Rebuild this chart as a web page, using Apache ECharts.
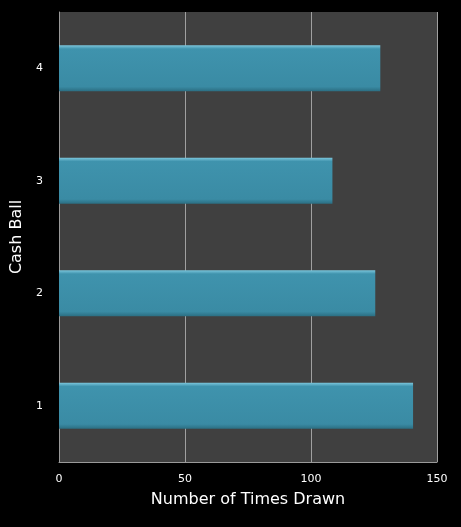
<!DOCTYPE html>
<html>
<head>
<meta charset="utf-8">
<script src="https://cdn.jsdelivr.net/npm/echarts@6/dist/echarts.min.js"></script>
<style>html,body{margin:0;padding:0;background:#000;}#main{width:461px;height:527px;}</style>
</head>
<body>
<div id="main"></div>
<script>
var categories = ['1', '2', '3', '4'];
var timesDrawn = [140.5, 125.5, 108.5, 127.5];
var xTicks = [0, 50, 100, 150];

var myChart = echarts.init(document.getElementById('main'));
var option = {
	backgroundColor: '#000000',
	grid: { left: 59, right: 24, top: 12, bottom: 65, show: true, backgroundColor: '#404040', borderWidth: 0 },
	xAxis: {
		type: 'value', min: xTicks[0], max: xTicks[xTicks.length - 1], interval: 50,
		name: 'Number of Times Drawn', nameLocation: 'middle', nameGap: 30,
		nameTextStyle: { color: '#ffffff', fontSize: 16, fontFamily: 'DejaVu Sans' },
		axisLine: { show: true, lineStyle: { color: '#9a9a9a' } },
		axisTick: { show: false },
		axisLabel: { color: '#ffffff', fontSize: 11, fontFamily: 'DejaVu Sans', margin: 12 },
		splitLine: { lineStyle: { color: '#a0a0a0', width: 1 } }
	},
	yAxis: {
		type: 'category', data: categories,
		name: 'Cash Ball', nameLocation: 'middle', nameGap: 30,
		nameTextStyle: { color: '#ffffff', fontSize: 16, fontFamily: 'DejaVu Sans' },
		axisLine: { show: true, lineStyle: { color: '#9a9a9a' } },
		axisTick: { show: false },
		axisLabel: { color: '#ffffff', fontSize: 11, fontFamily: 'DejaVu Sans', margin: 16 },
		splitLine: { show: false }
	},
	series: [{
		type: 'bar', data: timesDrawn, barWidth: 46,
		itemStyle: {
			color: new echarts.graphic.LinearGradient(0, 0, 0, 1, [
				{ offset: 0, color: '#7cc6dc' },
				{ offset: 0.08, color: '#3f93ad' },
				{ offset: 0.9, color: '#3a8ba4' },
				{ offset: 1, color: '#2b6e82' }
			]),
			shadowColor: 'rgba(0,0,0,0.6)', shadowBlur: 4, shadowOffsetX: 2, shadowOffsetY: 3
		}
	}]
};
myChart.setOption(option);
</script>
</body>
</html>
